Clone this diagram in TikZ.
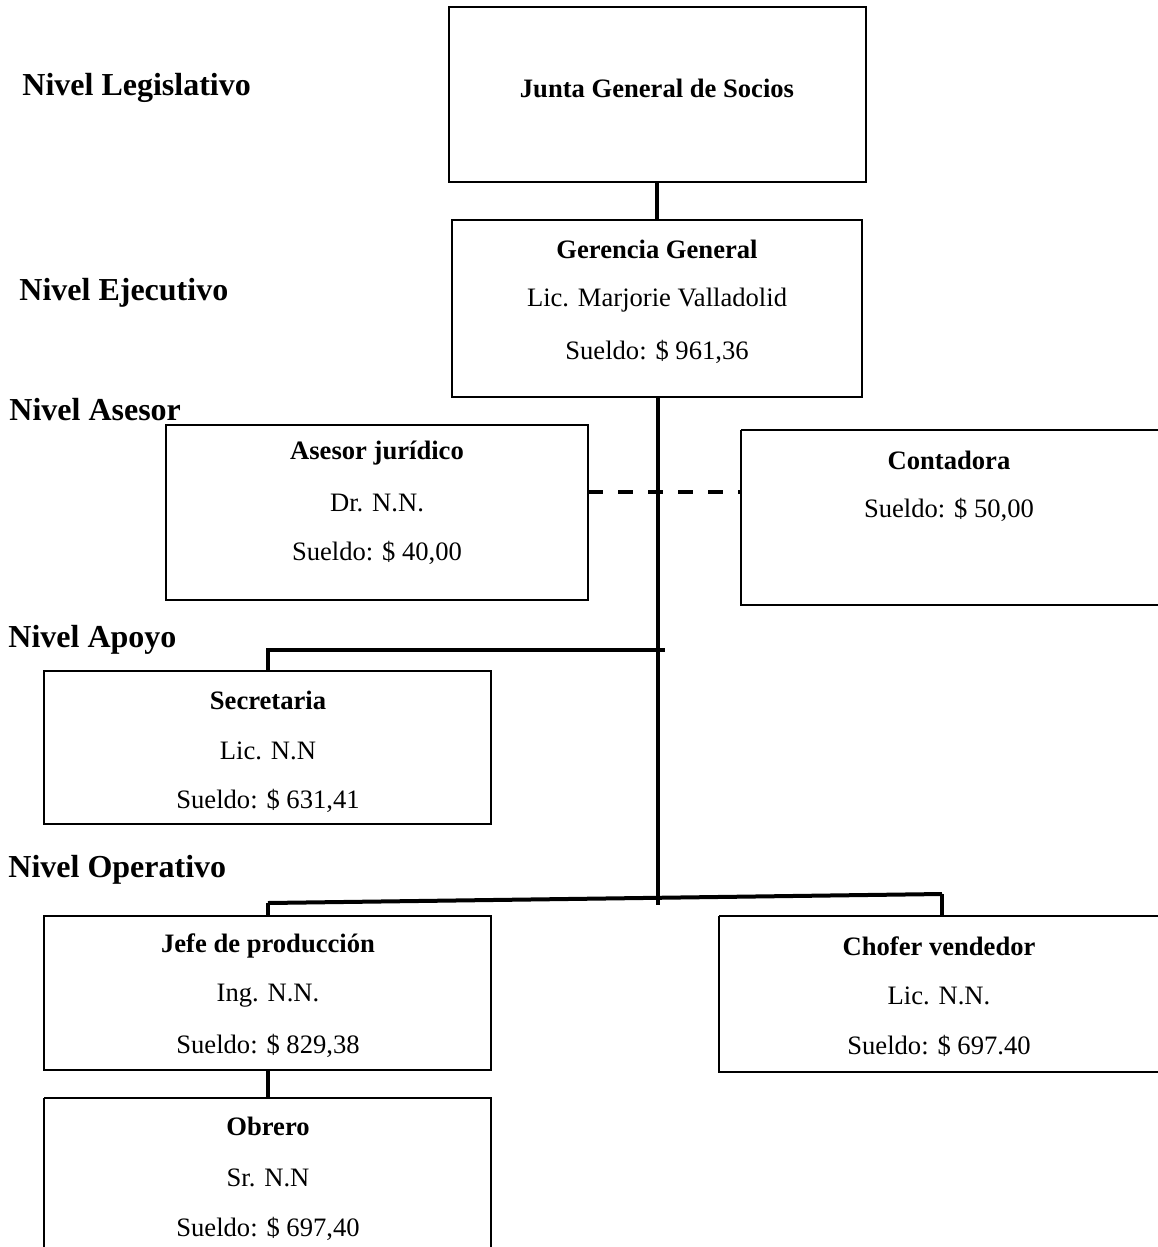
\documentclass[tikz,border=0pt]{standalone}
\usepackage{fontspec}
\setmainfont{Liberation Serif}
\begin{document}
\begin{tikzpicture}[x=0.5pt,y=-0.5pt,
  box/.style={draw=black,line width=1pt},
  conn/.style={draw=black,line width=2pt},
  dashconn/.style={draw=black,line width=2pt,dash pattern=on 7.5pt off 7.5pt},
  txt/.style={font=\fontsize{13.3}{15}\selectfont,inner sep=0pt},
  btxt/.style={font=\fontsize{13.3}{15}\selectfont\bfseries,inner sep=0pt},
  lvl/.style={font=\fontsize{16}{19}\selectfont\bfseries,inner sep=0pt,anchor=west}]
\useasboundingbox (0,0) rectangle (1157,1247);
% boxes
\draw[box] (449,7) rectangle (866,182);
\node[btxt] (junta) at (657,88) {Junta General de Socios};
\draw[box] (452,220) rectangle (862,397);
\node[btxt] (ger1) at (657,249) {Gerencia General};
\node[txt] (ger2) at (657,300) {Lic. Marjorie Valladolid};
\node[txt] (ger3) at (657,352) {Sueldo: \$ 961,36};
\draw[box] (166,425) rectangle (588,600);
\node[btxt] (ase1) at (377,453) {Asesor jurídico};
\node[txt] (ase2) at (377,503) {Dr. N.N.};
\node[txt] (ase3) at (377,553) {Sueldo: \$ 40,00};
\draw[box] (741,430) -- (1160,430) (741,430) -- (741,605) -- (1160,605);
\node[btxt] (con1) at (949,460) {Contadora};
\node[txt] (con2) at (949,510) {Sueldo: \$ 50,00};
\draw[box] (44,671) rectangle (491,824);
\node[btxt] (sec1) at (268,700) {Secretaria};
\node[txt] (sec2) at (268,751) {Lic. N.N};
\node[txt] (sec3) at (268,801) {Sueldo: \$ 631,41};
\draw[box] (44,916) rectangle (491,1070);
\node[btxt] (jef1) at (268,946) {Jefe de producción};
\node[txt] (jef2) at (268,996) {Ing. N.N.};
\node[txt] (jef3) at (268,1046) {Sueldo: \$ 829,38};
\draw[box] (719,916) -- (1160,916) (719,916) -- (719,1072) -- (1160,1072);
\node[btxt] (cho1) at (939,946) {Chofer vendedor};
\node[txt] (cho2) at (939,996) {Lic. N.N.};
\node[txt] (cho3) at (939,1046) {Sueldo: \$ 697.40};
\draw[box] (44,1098) -- (491,1098) -- (491,1250) (44,1098) -- (44,1250);
\node[btxt] (obr1) at (268,1126) {Obrero};
\node[txt] (obr2) at (268,1178) {Sr. N.N};
\node[txt] (obr3) at (268,1229) {Sueldo: \$ 697,40};
% level labels
\node[lvl] (l1) at (22,88) {Nivel Legislativo};
\node[lvl] (l2) at (19,293) {Nivel Ejecutivo};
\node[lvl] (l3) at (9,410) {Nivel Asesor};
\node[lvl] (l4) at (8,640) {Nivel Apoyo};
\node[lvl] (l5) at (8,870) {Nivel Operativo};
% connectors
\coordinate (jb) at (657,182);
\coordinate (gt) at (657,220);
\coordinate (gb) at (658,397);
\coordinate (tb) at (658,905);
\coordinate (ar) at (588,492);
\coordinate (cl) at (741,492);
\coordinate (ap1) at (266,650);
\coordinate (ap2) at (665,650);
\coordinate (st) at (268,671);
\coordinate (op1) at (268,903);
\coordinate (op2) at (942,894);
\coordinate (jt) at (268,916);
\coordinate (ct) at (942,916);
\coordinate (jbt) at (268,1070);
\coordinate (ot) at (268,1098);
\draw[conn] (jb) -- (gt);
\draw[conn] (gb) -- (tb);
\draw[dashconn] (ar) -- (cl);
\draw[conn] (ap1) -- (ap2);
\draw[conn] (268,650) -- (st);
\draw[conn] (op1) -- (op2);
\draw[conn] (op1) -- (jt);
\draw[conn] (op2) -- (ct);
\draw[conn] (jbt) -- (ot);
\end{tikzpicture}
\end{document}
